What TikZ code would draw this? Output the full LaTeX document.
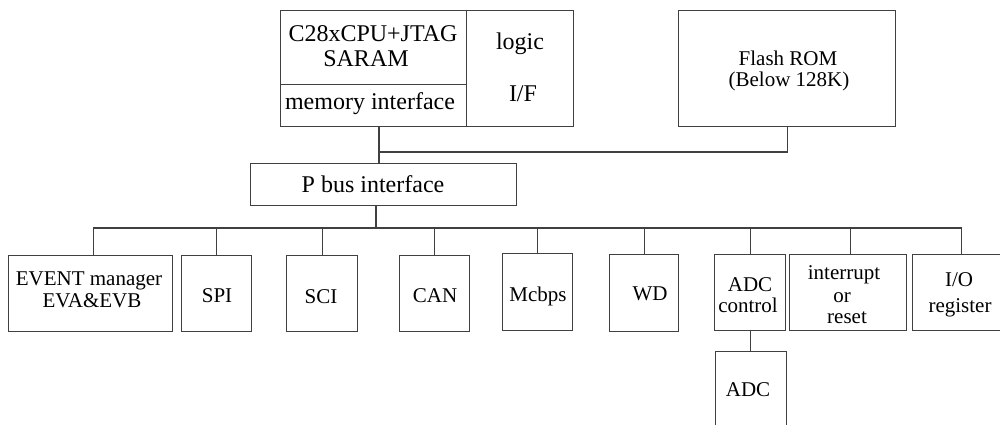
\documentclass[tikz,border=0pt]{standalone}
\usepackage{fontspec}
\setmainfont{Liberation Serif}
\begin{document}
\begin{tikzpicture}[x=1pt,y=-1pt,
  box/.style={draw=black!75, line width=1.3pt, inner sep=0pt, anchor=north west},
  wire/.style={draw=black!75, line width=1.3pt},
  txt/.style={inner sep=0pt, anchor=base, font=\fontsize{21}{25}\selectfont},
  big/.style={inner sep=0pt, anchor=base, font=\fontsize{24}{28}\selectfont}]
\useasboundingbox (0,0) rectangle (1000,425);
\clip (0,0) rectangle (1000,425);

% CPU block and memories
\node[box, minimum width=186pt, minimum height=74pt]  (cpu)   at (280,10)  {};
\node[box, minimum width=186pt, minimum height=42pt]  (mem)   at (280,84)  {};
\node[box, minimum width=107pt, minimum height=116pt] (logic) at (466,10)  {};
\node[box, minimum width=217pt, minimum height=116pt] (flash) at (678,10)  {};
\node[box, minimum width=266pt, minimum height=42pt]  (pbus)  at (250,163) {};

% peripherals
\node[box, minimum width=164pt, minimum height=76pt] (event) at (8,255)   {};
\node[box, minimum width=70pt,  minimum height=76pt] (spi)   at (181,255) {};
\node[box, minimum width=71pt,  minimum height=76pt] (sci)   at (286,255) {};
\node[box, minimum width=70pt,  minimum height=76pt] (can)   at (399,255) {};
\node[box, minimum width=70pt,  minimum height=77pt] (mcbps) at (502,253) {};
\node[box, minimum width=69pt,  minimum height=77pt] (wd)    at (609,254) {};
\node[box, minimum width=71pt,  minimum height=76pt] (adcc)  at (714,254) {};
\node[box, minimum width=117pt, minimum height=76pt] (intr)  at (789,254) {};
\node[box, minimum width=98pt,  minimum height=76pt] (io)    at (912,254) {};
\node[box, minimum width=71pt,  minimum height=94pt] (adc)   at (715,351) {};

% labels
\node[big] (tcpu1) at (373,42)  {C28xCPU+JTAG};
\node[big] (tcpu2) at (366,67)  {SARAM};
\node[big] (tmem)  at (370,110) {memory interface};
\node[big] (tlog1) at (520,50)  {logic};
\node[big] (tlog2) at (523,102) {I/F};
\node[txt] (tfl1)  at (788,66)  {Flash ROM};
\node[txt] (tfl2)  at (789,87)  {(Below 128K)};
\node[big] (tpbus) at (373,192) {P bus interface};
\node[txt] (tev1)  at (89,285)  {EVENT manager};
\node[txt] (tev2)  at (92,307)  {EVA\&EVB};
\node[txt] (tspi)  at (217,302) {SPI};
\node[txt] (tsci)  at (321,303) {SCI};
\node[txt] (tcan)  at (435,302) {CAN};
\node[txt] (tmcb)  at (538,301) {Mcbps};
\node[txt] (twd)   at (650,300) {WD};
\node[txt] (tadc1) at (750,291) {ADC};
\node[txt] (tadc2) at (748,312) {control};
\node[txt] (tint1) at (844,279) {interrupt};
\node[txt] (tint2) at (842,302) {or};
\node[txt] (tint3) at (847,323) {reset};
\node[txt] (tio1)  at (959,286) {I/O};
\node[txt] (tio2)  at (960,312) {register};
\node[txt] (tadc)  at (748,396) {ADC};

% upper bus
\coordinate (j) at (379,152);
\draw[wire] (j |- mem.south) -- (j |- pbus.north);
\draw[wire] (j) -| (flash.south);

% peripheral bus
\coordinate (bus) at (376,228);
\draw[wire] (bus |- pbus.south) -- (bus);
\draw[wire] ([xshift=3pt]event.north) |- (bus);
\draw[wire] (bus) -| (io.north);
\foreach \p in {spi,sci,can,mcbps,wd,adcc}
  \draw[wire] (\p.north) -- (\p.north |- bus);
\draw[wire] ([xshift=2.5pt]intr.north) -- ([xshift=2.5pt]intr.north |- bus);
\draw[wire] (adcc.south) -- (adcc.south |- adc.north);
\end{tikzpicture}
\end{document}
